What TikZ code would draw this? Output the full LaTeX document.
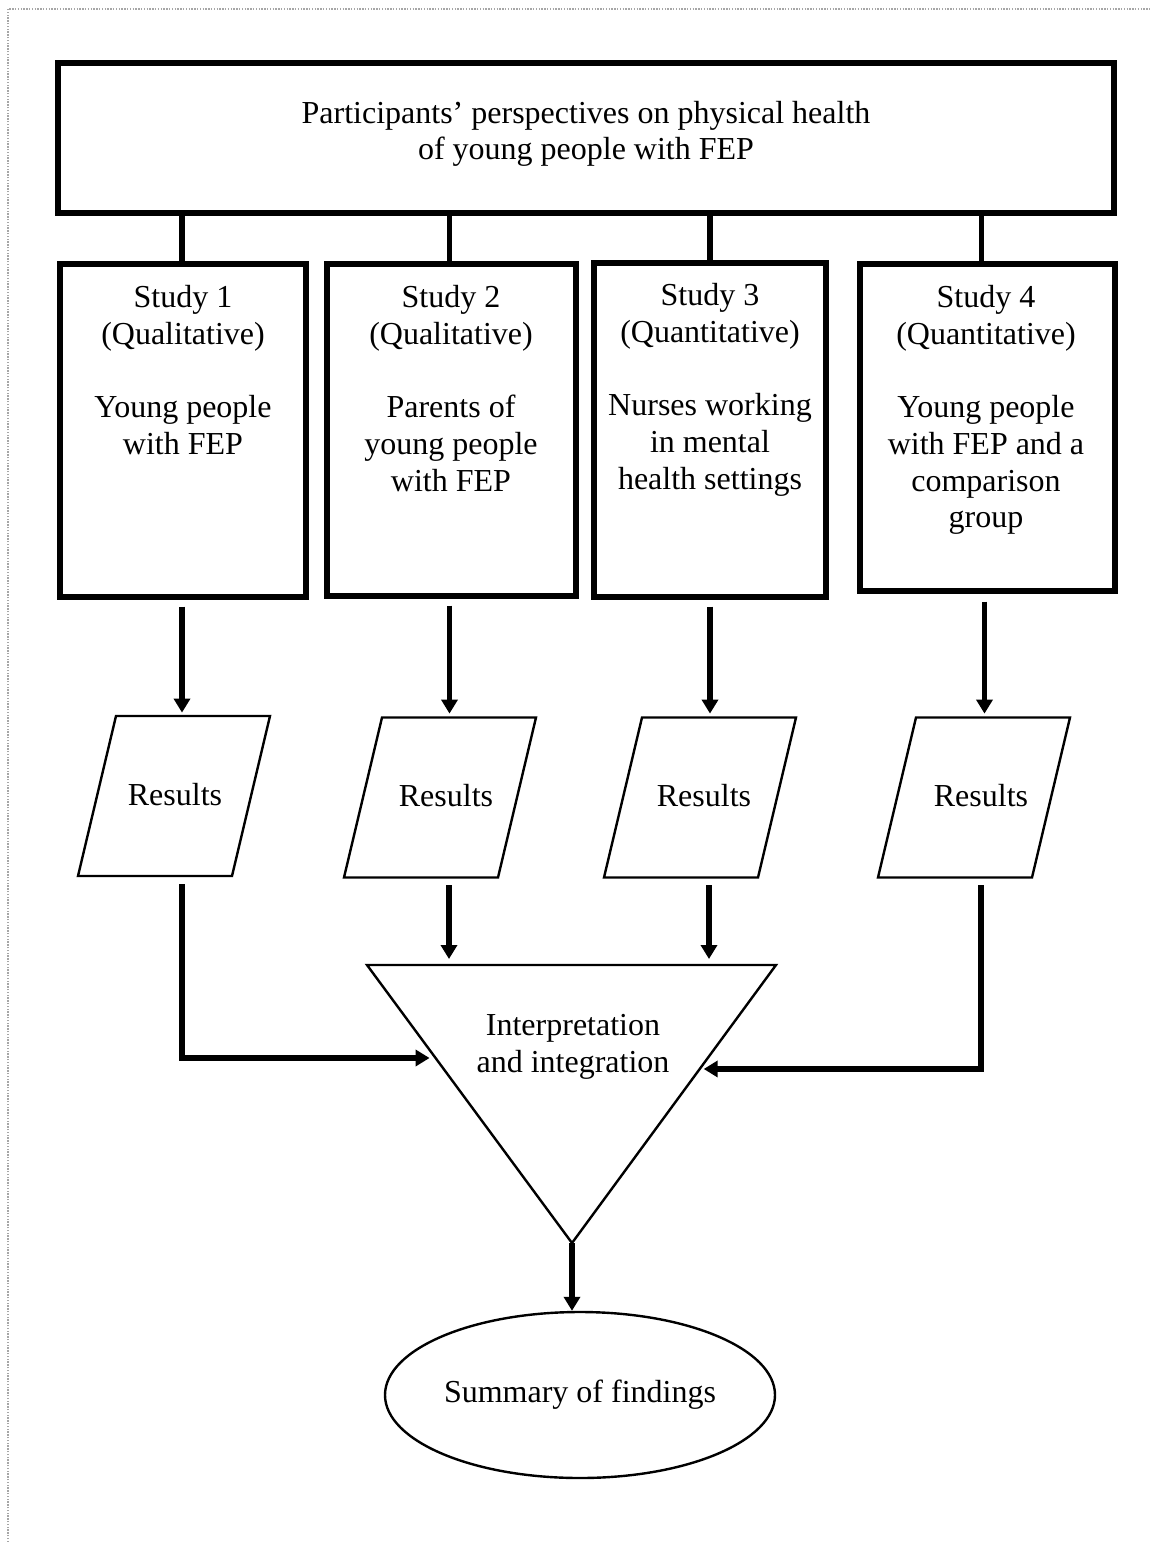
\documentclass[tikz,border=0pt]{standalone}
\usepackage{fontspec}
\setmainfont{Liberation Serif}
\usetikzlibrary{arrows.meta,shapes.geometric,calc}
\begin{document}
\begin{tikzpicture}[x=0.5pt,y=-0.5pt,
  font=\fontsize{16}{18.35}\selectfont,
  thickbox/.style={draw, line width=2.7pt, inner sep=0pt, rectangle},
  txt/.style={inner sep=0pt, align=center},
  conn/.style={line width=2.7pt},
  arr/.style={line width=2.6pt, -{Triangle[length=7pt,width=8pt]}},
  thinline/.style={line width=1.2pt},
  hidden/.style={inner sep=0pt, minimum width=96pt, minimum height=80pt}]
\useasboundingbox (0,0) rectangle (1151,1542);
% page frame
\draw[gray!70, line width=0.6pt, dash pattern=on 0.7pt off 0.7pt] (8,1542) -- (8,9) -- (1151,9);

% top box
\node[thickbox, minimum width=528pt, minimum height=75pt] (top) at (586,138) {};
\node[txt] (toptext) at (586,134) {Participants' perspectives on physical health\\of young people with FEP};

% study boxes
\node[thickbox, minimum width=123pt, minimum height=166.5pt] (s1) at (183,430.5) {};
\node[thickbox, minimum width=124.5pt, minimum height=166pt] (s2) at (451.5,430) {};
\node[thickbox, minimum width=116pt, minimum height=167pt] (s3) at (710,430) {};
\node[thickbox, minimum width=127.5pt, minimum height=163.5pt] (s4) at (987.5,427.5) {};

\node[txt, anchor=north] (t1) at (183,285) {Study 1\\(Qualitative)\\[18.35pt]Young people\\with FEP};
\node[txt, anchor=north] (t2) at (451,285) {Study 2\\(Qualitative)\\[18.35pt]Parents of\\young people\\with FEP};
\node[txt, anchor=north] (t3) at (710,283) {Study 3\\(Quantitative)\\[18.35pt]Nurses working\\in mental\\health settings};
\node[txt, anchor=north] (t4) at (986,285) {Study 4\\(Quantitative)\\[18.35pt]Young people\\with FEP and a\\comparison\\group};

% connectors top -> studies
\draw[conn] ($(s1.north)+(-1,0)$) -- ($(s1.north |- top.south)+(-1,0)$);
\draw[conn] ($(s2.north)+(-2,0)$) -- ($(s2.north |- top.south)+(-2,0)$);
\draw[conn] (s3.north) -- (s3.north |- top.south);
\draw[conn] ($(s4.north)+(-6,0)$) -- ($(s4.north |- top.south)+(-6,0)$);

% results
\node[hidden] (r1) at (175,795) {Results};
\node[hidden] (r2) at (446,796) {Results};
\node[hidden] (r3) at (704,796) {Results};
\node[hidden] (r4) at (981,796) {Results};
\foreach \n/\d/\e in {r1/-1/1, r2/-6/1.5, r3/-4/1.5, r4/-7/1.5}{
  \draw[thinline, line join=miter] ($(\n.center)+(\d-58,\e-80)$) -- ($(\n.center)+(\d+96,\e-80)$)
    -- ($(\n.center)+(\d+58,\e+80)$) -- ($(\n.center)+(\d-96,\e+80)$) -- cycle;
}

% arrows studies -> results
\draw[arr, shorten <=3.5pt, shorten >=1pt] ($(s1.south)+(-1,0)$) -- ($(s1.south |- r1.north)+(-1,0)$);
\draw[arr, shorten <=3.5pt, shorten >=1pt] ($(s2.south)+(-2,0)$) -- ($(s2.south |- r2.north)+(-2,0)$);
\draw[arr, shorten <=3.5pt, shorten >=1pt] (s3.south) -- (s3.south |- r3.north);
\draw[arr, shorten <=4pt, shorten >=1pt] ($(s4.south)+(-3,0)$) -- ($(s4.south |- r4.north)+(-3,0)$);

% triangle
\coordinate (tl) at (367,965);
\coordinate (tr) at (776,965);
\coordinate (ta) at (572,1243);
\draw[thinline, line join=miter] (tl) -- (tr) -- (ta) -- cycle;
\node[txt] (tritext) at (573,1047) {Interpretation\\and integration};
\coordinate (tipL) at ($(tl)!0.3345!(ta)$);
\coordinate (tipR) at ($(tr)!0.374!(ta)$);

% arrows results -> triangle
\draw[arr, shorten <=4.5pt, shorten >=3pt] ($(r2.south)+(3,0)$) -- ($(r2.south |- tl)+(3,0)$);
\draw[arr, shorten <=4.5pt, shorten >=3pt] ($(r3.south)+(5,0)$) -- ($(r3.south |- tl)+(5,0)$);
\draw[arr, line join=miter, shorten <=4.5pt, shorten >=3pt] ($(r1.south)+(7,0)$) |- (tipL);
\draw[arr, line join=miter, shorten <=4.5pt, shorten >=2pt] (r4.south) |- (tipR);

% ellipse
\node[draw, thinline, ellipse, inner sep=0pt, minimum width=195pt, minimum height=83pt] (sum) at (580,1395) {\raisebox{-1.5pt}{Summary of findings}};
\draw[arr] (ta) -- (ta |- sum.north);
\end{tikzpicture}
\end{document}
